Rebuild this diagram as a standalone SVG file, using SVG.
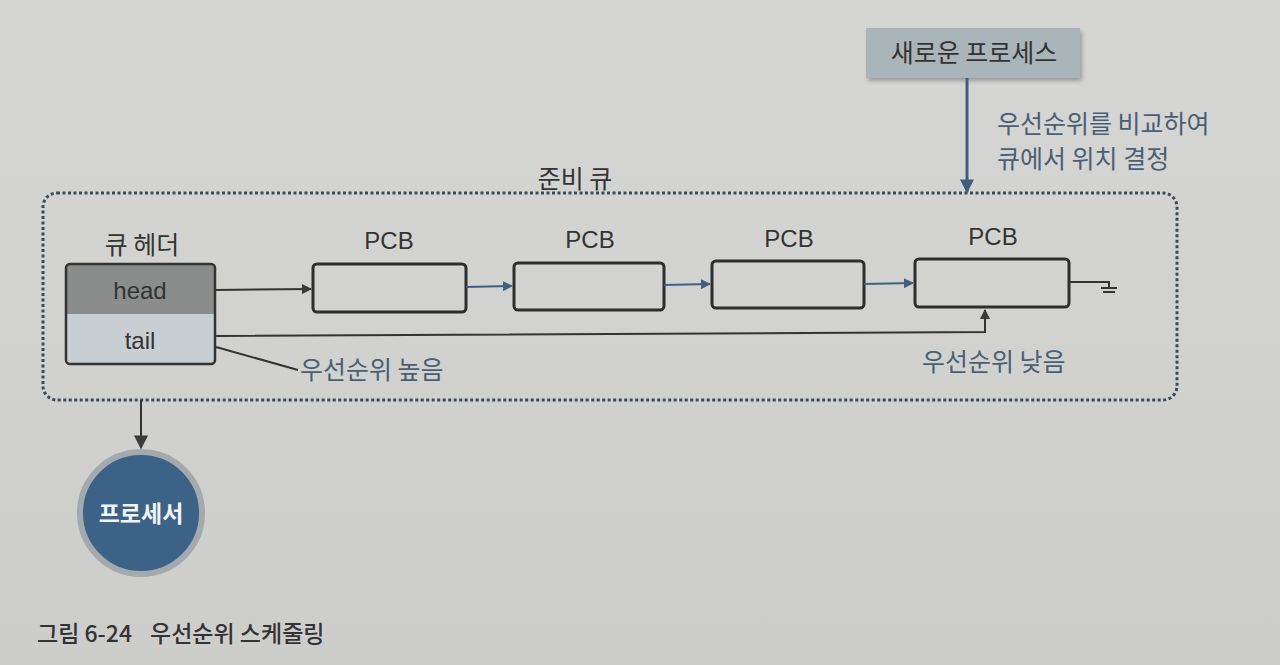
<svg xmlns="http://www.w3.org/2000/svg" width="1280" height="665" viewBox="0 0 1280 665">
<defs>
<linearGradient id="bg" x1="0" y1="0" x2="0" y2="1">
<stop offset="0" stop-color="#d6d7d5"/>
<stop offset="1" stop-color="#cdcecc"/>
</linearGradient>
<filter id="sh" x="-10%" y="-20%" width="130%" height="150%">
<feDropShadow dx="2" dy="3" stdDeviation="2" flood-color="#555" flood-opacity="0.45"/>
</filter>
<marker id="ad" viewBox="0 0 10 10" refX="9" refY="5" markerWidth="10" markerHeight="10" markerUnits="userSpaceOnUse" orient="auto">
<path d="M0,0 L10,5 L0,10 z" fill="#3a3a3a"/>
</marker>
<marker id="ab" viewBox="0 0 10 10" refX="9" refY="5" markerWidth="10" markerHeight="10" markerUnits="userSpaceOnUse" orient="auto">
<path d="M0,0 L10,5 L0,10 z" fill="#3e5f80"/>
</marker>
<marker id="abig" viewBox="0 0 10 10" refX="9" refY="5" markerWidth="14" markerHeight="14" markerUnits="userSpaceOnUse" orient="auto">
<path d="M0,0 L10,5 L0,10 z" fill="#3e5f80"/>
</marker>
<marker id="adbig" viewBox="0 0 10 10" refX="9" refY="5" markerWidth="14" markerHeight="14" markerUnits="userSpaceOnUse" orient="auto">
<path d="M0,0 L10,5 L0,10 z" fill="#3a3a3a"/>
</marker>
</defs>
<style>
.lat{font-family:"Liberation Sans","Noto Sans CJK KR",sans-serif;font-size:24px;fill:#333;}
.kr{font-family:"Noto Sans CJK KR",sans-serif;font-size:25px;fill:#333;}
.krb{font-family:"Noto Sans CJK KR",sans-serif;font-size:25px;fill:#4a5f73;}
.pcb{fill:none;stroke:#2e2e2e;stroke-width:3;}
.bl{stroke:#3e5f80;stroke-width:2;fill:none;}
.dk{stroke:#333;stroke-width:2;fill:none;}
</style>
<rect x="0" y="0" width="1280" height="665" fill="url(#bg)"/>

<g id="ready-queue">
<rect x="43" y="193" width="1134" height="207" rx="14" fill="none" stroke="#3c4a58" stroke-width="3" stroke-dasharray="3 2.5"/>
<text class="kr" x="575" y="188" text-anchor="middle">준비 큐</text>
</g>

<g id="queue-header">
<text class="kr" x="142" y="254" text-anchor="middle" font-size="24">큐 헤더</text>
<path d="M66,314 V268 a4,4 0 0 1 4,-4 H211 a4,4 0 0 1 4,4 V314 z" fill="#8b8d8d"/>
<path d="M66,314 V360 a4,4 0 0 0 4,4 H211 a4,4 0 0 0 4,-4 V314 z" fill="#c8cfd3"/>
<rect x="66" y="264" width="149" height="100" rx="4" fill="none" stroke="#333" stroke-width="2.5"/>
<text class="lat" x="140" y="299" text-anchor="middle">head</text>
<text class="lat" x="140" y="349" text-anchor="middle">tail</text>
</g>

<g id="pcb1">
<text class="lat" x="389" y="249" text-anchor="middle" font-size="23">PCB</text>
<rect class="pcb" x="313" y="264" width="153" height="48" rx="4"/>
</g>
<g id="pcb2">
<text class="lat" x="590" y="248" text-anchor="middle" font-size="23">PCB</text>
<rect class="pcb" x="514" y="263" width="150" height="47" rx="4"/>
</g>
<g id="pcb3">
<text class="lat" x="789" y="247" text-anchor="middle" font-size="23">PCB</text>
<rect class="pcb" x="712" y="261" width="152" height="47" rx="4"/>
</g>
<g id="pcb4">
<text class="lat" x="993" y="245" text-anchor="middle" font-size="23">PCB</text>
<rect class="pcb" x="915" y="259" width="154" height="48" rx="4"/>
</g>

<g id="new-process">
<rect x="866" y="28" width="214" height="50" fill="#aab5ba" filter="url(#sh)"/>
<text class="kr" x="974" y="62" text-anchor="middle" font-size="25">새로운 프로세스</text>
</g>

<g id="processor">
<circle cx="141" cy="513" r="61" fill="#3c6287" stroke="#a3a9ac" stroke-width="6"/>
<text x="141" y="522" text-anchor="middle" style="font-family:'Noto Sans CJK KR',sans-serif;font-size:23px;font-weight:bold;fill:#f2f4f5;">프로세서</text>
</g>

<g id="connectors">
<line class="dk" x1="215" y1="290" x2="311" y2="289" marker-end="url(#ad)"/>
<line class="bl" x1="466" y1="287" x2="512" y2="286" marker-end="url(#ab)"/>
<line class="bl" x1="664" y1="285" x2="710" y2="284" marker-end="url(#ab)"/>
<line class="bl" x1="864" y1="284" x2="913" y2="283" marker-end="url(#ab)"/>
<polyline class="dk" points="1069,282 1109,282 1109,288"/>
<line class="dk" x1="1101" y1="288" x2="1117" y2="288"/>
<line class="dk" x1="1103" y1="292" x2="1115" y2="292"/>
<polyline class="dk" points="215,336 985,332 985,310" marker-end="url(#ad)"/>
<line class="dk" x1="216" y1="347" x2="298" y2="370"/>
<line x1="967" y1="78" x2="967" y2="192" stroke="#3e5f80" stroke-width="3" marker-end="url(#abig)"/>
<line class="dk" x1="141" y1="400" x2="141" y2="448" marker-end="url(#adbig)"/>
</g>

<g id="labels">
<text class="krb" x="300" y="379">우선순위 높음</text>
<text class="krb" x="922" y="371" font-size="24">우선순위 낮음</text>
<text class="krb" x="997" y="133" font-size="24">우선순위를 비교하여</text>
<text class="krb" x="997" y="168" font-size="24">큐에서 위치 결정</text>
</g>

<g id="caption">
<text x="37" y="642" style="font-family:'Noto Sans CJK KR',sans-serif;font-size:23px;font-weight:500;fill:#333;">그림 6-24<tspan x="150">우선순위 스케줄링</tspan></text>
</g>
</svg>
